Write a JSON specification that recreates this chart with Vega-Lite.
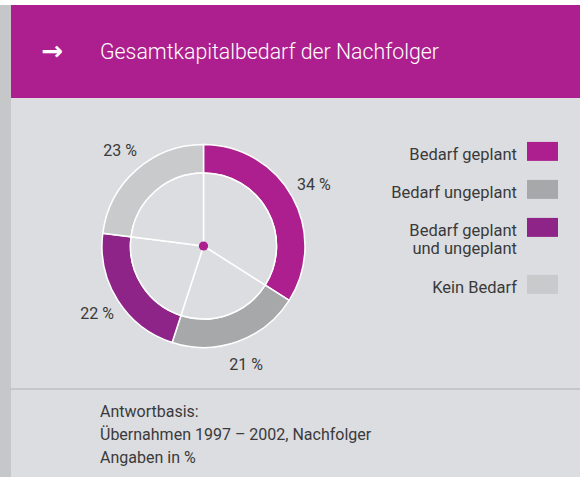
{
  "$schema": "https://vega.github.io/schema/vega-lite/v6.json",
  "padding": 0,
  "background": "#dcdde0",
  "spacing": 0,
  "config": {"view": {"stroke": null}, "font": "Roboto"},
  "datasets": {
    "titel": [{"Text": "Gesamtkapitalbedarf der Nachfolger", "Pfeil": "→"}],
    "anteile": [
      {"Nr": 1, "Kategorie": "Bedarf geplant", "Anteil": 34, "Beschriftung": "34 %"},
      {"Nr": 2, "Kategorie": "Bedarf ungeplant", "Anteil": 21, "Beschriftung": "21 %"},
      {"Nr": 3, "Kategorie": "Bedarf geplant und ungeplant", "Anteil": 22, "Beschriftung": "22 %"},
      {"Nr": 4, "Kategorie": "Kein Bedarf", "Anteil": 23, "Beschriftung": "23 %"}
    ],
    "fuss": [{"Text": "Antwortbasis:\nÜbernahmen 1997 – 2002, Nachfolger\nAngaben in %"}]
  },
  "vconcat": [
    {
      "width": 580, "height": 5,
      "view": {"fill": "#ffffff", "stroke": null},
      "data": {"name": "titel"},
      "mark": {"type": "rect", "color": "#ffffff"}
    },
    {
      "spacing": 0,
      "hconcat": [
        {
          "width": 11, "height": 472,
          "view": {"fill": "#c6c7c9", "stroke": null},
          "data": {"name": "titel"},
          "mark": {"type": "rect", "color": "#c6c7c9"}
        },
        {
          "spacing": 0,
          "vconcat": [
            {
              "spacing": 6,
              "vconcat": [
                {
                  "width": 569, "height": 93,
                  "view": {"fill": "#ad1f8e", "stroke": null},
                  "data": {"name": "titel"},
                  "layer": [
                    {
                      "mark": {"type": "text", "align": "left", "baseline": "alphabetic", "dx": -195.5, "dy": 7.8, "fontSize": 21.3, "fontWeight": 300, "font": "Roboto", "color": "#ffffff"},
                      "encoding": {"text": {"field": "Text", "type": "nominal"}}
                    },
                    {
                      "mark": {"type": "text", "align": "center", "baseline": "middle", "dx": -243, "dy": 0, "fontSize": 26, "fontWeight": "bold", "font": "DejaVu Sans", "color": "#ffffff"},
                      "encoding": {"text": {"field": "Pfeil", "type": "nominal"}}
                    }
                  ]
                },
                {
                  "width": 385, "height": 284,
                  "data": {"name": "anteile"},
                  "layer": [
                    {
                      "mark": {"type": "arc", "outerRadius": 101.5, "innerRadius": 73, "stroke": "#ffffff", "strokeWidth": 1.5},
                      "encoding": {
                        "theta": {"field": "Anteil", "type": "quantitative", "stack": true},
                        "order": {"field": "Nr", "type": "quantitative"},
                        "color": {
                          "field": "Kategorie", "type": "nominal",
                          "scale": {
                            "domain": ["Bedarf geplant", "Bedarf ungeplant", "Bedarf geplant und ungeplant", "Kein Bedarf"],
                            "range": ["#ad1f8e", "#a7a8aa", "#8e2388", "#c9cacc"]
                          },
                          "legend": {
                            "orient": "none", "legendX": 527, "legendY": 144,
                            "title": null, "padding": 0, "offset": 0,
                            "symbolType": "M-1,-1.135H1V0.09H-1Z", "symbolSize": 961,
                            "symbolStrokeWidth": 0, "symbolOpacity": 1,
                            "labelAlign": "right", "labelBaseline": "alphabetic", "labelOffset": -41,
                            "labelFontSize": 16.5, "labelFont": "Roboto", "labelColor": "#3a3a3a", "labelLimit": 300,
                            "rowPadding": 16,
                            "labelExpr": "datum.label == 'Bedarf geplant und ungeplant' ? ['Bedarf geplant', 'und ungeplant'] : datum.label",
                            "encode": {"labels": {"update": {"lineHeight": {"value": 19.5}}}}
                          }
                        }
                      }
                    },
                    {
                      "mark": {"type": "arc", "outerRadius": 73, "innerRadius": 0, "fill": "#dcdde0", "stroke": "#ffffff", "strokeWidth": 1.5},
                      "encoding": {
                        "theta": {"field": "Anteil", "type": "quantitative", "stack": true},
                        "order": {"field": "Nr", "type": "quantitative"}
                      }
                    },
                    {
                      "transform": [{"filter": "datum.Nr == 1"}],
                      "mark": {"type": "circle", "size": 85, "color": "#ad1f8e", "opacity": 1},
                      "encoding": {}
                    },
                    {
                      "mark": {"type": "text", "radius": 126, "fontSize": 16, "font": "Roboto", "color": "#3a3a3a"},
                      "encoding": {
                        "theta": {"field": "Anteil", "type": "quantitative", "stack": true},
                        "order": {"field": "Nr", "type": "quantitative"},
                        "text": {"field": "Beschriftung", "type": "nominal"}
                      }
                    }
                  ]
                }
              ]
            },
            {
              "width": 569, "height": 2,
              "view": {"fill": "#c6c7c9", "stroke": null},
              "data": {"name": "titel"},
              "mark": {"type": "rect", "color": "#c6c7c9"}
            },
            {
              "width": 569, "height": 87,
              "data": {"name": "fuss"},
              "mark": {"type": "text", "align": "left", "baseline": "alphabetic", "lineBreak": "\n", "lineHeight": 23, "dx": -195.5, "dy": -16.8, "fontSize": 16, "font": "Roboto", "color": "#3a3a3a"},
              "encoding": {"text": {"field": "Text", "type": "nominal"}}
            }
          ]
        }
      ]
    }
  ]
}
